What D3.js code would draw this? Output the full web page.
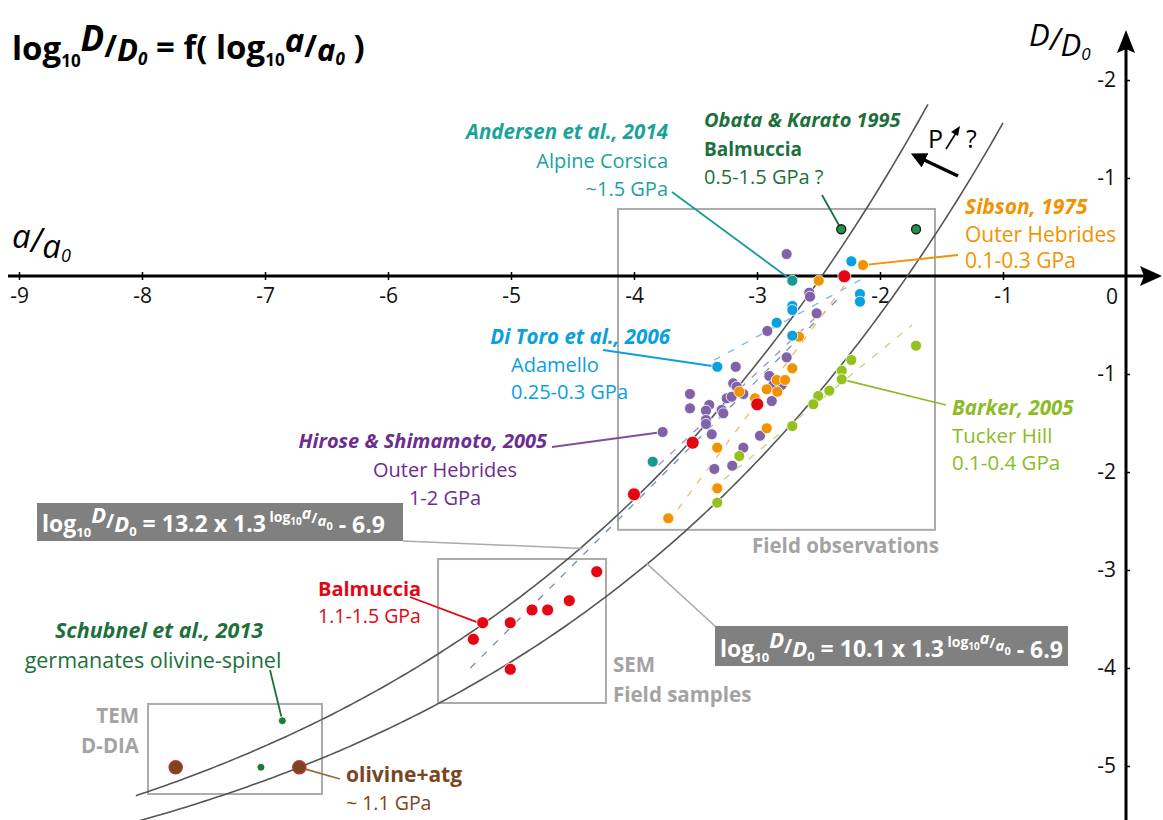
<!DOCTYPE html>
<html><head><meta charset="utf-8">
<script src="https://cdn.jsdelivr.net/npm/d3@7"></script>
<style>
body{margin:0;background:#fff}
svg{display:block}
text{font-family:'Open Sans',sans-serif}
</style>
</head><body>
<svg id="chart" width="1163" height="820"></svg>
<script>
// ---------- axis ticks ----------
const xTickValues = [-9,-8,-7,-6,-5,-4,-3,-2,-1];
const xTickLabels = ["-9","-8","-7","-6","-5","-4","-3","-2","-1"];
const yTickValues = [2,1,-1,-2,-3,-4,-5];
const yTickLabels = ["-2","-1","-1","-2","-3","-4","-5"];

// ---------- data: [log10 a/a0, log10 D/D0] ----------
const obataKarato = [[-2.315,0.477],[-1.707,0.477]];
const andersen = [[-2.713,-0.048],[-3.848,-1.895]];
const sibson = [[-2.138,0.112],[-2.498,-0.048],[-2.659,-0.619],[-2.713,-0.942],[-2.840,-1.061],
  [-2.772,-1.061],[-3.144,-1.181],[-2.921,-1.156],[-2.835,-1.181],[-3.016,-1.248],[-2.921,-1.554],
  [-3.323,-1.752],[-3.323,-2.166],[-3.721,-2.472]];
const diToro = [[-2.233,0.150],[-2.163,-0.184],[-2.163,-0.262],[-2.713,-0.306],[-2.713,-0.347],
  [-2.840,-0.477],[-2.713,-0.609],[-3.323,-0.926]];
const barker = [[-1.707,-0.711],[-2.233,-0.857],[-2.311,-0.966],[-2.311,-1.054],[-2.412,-1.170],
  [-2.502,-1.224],[-2.542,-1.309],[-2.713,-1.531],[-3.144,-1.837],[-3.323,-2.313]];
const hiroseShimamoto = [[-2.759,0.224],[-2.575,-0.170],[-2.569,-0.211],[-2.515,-0.381],[-2.916,-0.561],
  [-2.759,-0.830],[-3.173,-0.926],[-2.900,-1.020],[-3.193,-1.095],[-3.165,-1.130],[-2.867,-1.112],
  [-2.799,-1.112],[-3.545,-1.204],[-3.111,-1.204],[-3.246,-1.248],[-3.206,-1.232],[-2.880,-1.276],
  [-3.545,-1.350],[-3.388,-1.316],[-3.415,-1.374],[-3.287,-1.367],[-3.274,-1.401],[-3.415,-1.469],
  [-3.415,-1.510],[-3.767,-1.592],[-3.368,-1.615],[-2.976,-1.630],[-3.111,-1.752],[-3.347,-1.969],
  [-3.201,-1.936]];
const balmucciaField = [[-2.290,-0.003],[-2.998,-1.309],[-3.523,-1.701],[-4.000,-2.228]];
const balmucciaSEM = [[-4.303,-3.017],[-4.526,-3.313],[-4.829,-3.408],[-4.702,-3.408],[-5.230,-3.538],
  [-5.006,-3.538],[-5.306,-3.707],[-5.006,-4.013]];
const schubnel = [[-6.859,-4.538],[-7.033,-5.013]];
const olivineAtg = [[-7.726,-5.013],[-6.721,-5.013]];

// dashed trend lines [start, end]
const trendRed = [[-5.33,-4.00],[-2.33,-0.22]];
const trendDiToro = [[-3.35,-0.86],[-2.16,-0.04]];
const trendHirose = [[-3.80,-1.93],[-2.53,-0.43]];
const trendSibson = [[-3.72,-2.51],[-2.28,-0.08]];
const trendBarker = [[-3.37,-2.18],[-1.74,-0.50]];

// envelope curves: log10 D/D0 = k * 1.3^x - 6.9
const upperCurve = {k:13.2, base:1.3, c:-6.9, x0:-8.05, x1:-1.61};
const lowerCurve = {k:11.0, base:1.3, c:-6.9, x0:-8.1, x1:-1.0};

// ---------- scales ----------
const svg = d3.select("#chart");
const x = d3.scaleLinear().domain([-9,0]).range([19,1126]);
const y = d3.scaleLinear().domain([2,0]).range([80,276]);
const FONT = "'Open Sans',sans-serif";

// ---------- boxes ----------
const boxes = [
  {x0:-4.13,x1:-1.553,y0:0.684,y1:-2.59},
  {x0:-5.593,x1:-4.228,y0:-2.888,y1:-4.357},
  {x0:-7.951,x1:-6.537,y0:-4.367,y1:-5.286}
];
svg.selectAll("rect.zone").data(boxes).join("rect").attr("class","zone")
  .attr("x",d=>x(d.x0)).attr("y",d=>y(d.y0))
  .attr("width",d=>x(d.x1)-x(d.x0)).attr("height",d=>y(d.y1)-y(d.y0))
  .attr("fill","none").attr("stroke","#ababab").attr("stroke-width",2);

// ---------- axes ----------
const axisY0 = y(0), axisX0 = x(0);
svg.append("line").attr("x1",8).attr("x2",1148).attr("y1",axisY0).attr("y2",axisY0)
  .attr("stroke","#000").attr("stroke-width",3);
svg.append("path").attr("d",`M1162,${axisY0} L1140,${axisY0-10} L1144,${axisY0} L1140,${axisY0+10} Z`).attr("fill","#000");
svg.append("line").attr("x1",axisX0).attr("x2",axisX0).attr("y1",820).attr("y2",45)
  .attr("stroke","#000").attr("stroke-width",3);
svg.append("path").attr("d",`M${axisX0},30 L${axisX0-9},53 L${axisX0},49 L${axisX0+9},53 Z`).attr("fill","#000");

const gx = svg.append("g").attr("transform",`translate(0,${axisY0})`)
  .call(d3.axisBottom(x).tickValues(xTickValues).tickFormat((d,i)=>xTickLabels[i]).tickSize(4).tickPadding(8));
gx.select(".domain").remove();
gx.selectAll(".tick line").attr("y1",-4).attr("stroke","#000").attr("stroke-width",1.5);
gx.selectAll(".tick text").attr("font-size",21).attr("fill","#111").attr("font-family",FONT);

const gy = svg.append("g").attr("transform",`translate(${axisX0},0)`)
  .call(d3.axisLeft(y).tickValues(yTickValues).tickFormat((d,i)=>yTickLabels[i]).tickSize(4).tickPadding(6));
gy.select(".domain").remove();
gy.selectAll(".tick line").attr("x2",4).attr("stroke","#000").attr("stroke-width",1.5);
gy.selectAll(".tick text").attr("font-size",21).attr("fill","#111").attr("font-family",FONT);
svg.append("text").attr("x",axisX0-14).attr("y",axisY0+28).attr("text-anchor","middle")
  .attr("font-size",21).attr("fill","#111").text("0");

// ---------- curves ----------
function curvePts(c){
  return d3.range(0,201).map(i=>{const xv=c.x0+(c.x1-c.x0)*i/200; return [xv, c.k*Math.pow(c.base,xv)+c.c];});
}
const line = d3.line().x(d=>x(d[0])).y(d=>y(d[1]));
[upperCurve,lowerCurve].forEach(c=>{
  svg.append("path").attr("d",line(curvePts(c))).attr("fill","none").attr("stroke","#555").attr("stroke-width",1.6);
});

// ---------- dashed trends ----------
const trends = [
  {d:trendRed,color:"#6f8ebf"},
  {d:trendDiToro,color:"#7ab8e6"},
  {d:trendHirose,color:"#a48fc9"},
  {d:trendSibson,color:"#f6b766"},
  {d:trendBarker,color:"#bcd67a"}
];
trends.forEach(t=>{
  svg.append("path").attr("d",line(t.d)).attr("fill","none").attr("stroke",t.color)
    .attr("stroke-width",1.3).attr("stroke-dasharray","7,9");
});

// ---------- leader lines ----------
function leader(px,py,pt,color,w){
  svg.append("line").attr("x1",px).attr("y1",py).attr("x2",x(pt[0])).attr("y2",y(pt[1]))
    .attr("stroke",color).attr("stroke-width",w||1.8);
}
leader(672,192,andersen[0],"#1a9c94");
leader(822,195,obataKarato[0],"#1d6f3c");
leader(958,255,sibson[0],"#f39200");
leader(603,350,diToro[7],"#0aa0e0");
leader(552,447,hiroseShimamoto[24],"#7f4f9f");
leader(946,405,barker[3],"#8dbb25");
leader(410,597,[balmucciaSEM[6][0]+0.04,balmucciaSEM[6][1]+0.17],"#e30613");
leader(270,670,schubnel[0],"#1d6f3c");
leader(340,779,olivineAtg[1],"#9a6a3a");
// formula leaders
svg.append("line").attr("x1",403).attr("y1",541).attr("x2",x(-4.42)).attr("y2",y(-2.78)).attr("stroke","#aaa").attr("stroke-width",1.5);
svg.append("line").attr("x1",716).attr("y1",627).attr("x2",x(-3.9)).attr("y2",y(-2.93)).attr("stroke","#aaa").attr("stroke-width",1.5);

// ---------- points ----------
function pts(data,fill,r,stroke,sw){
  svg.append("g").selectAll("circle").data(data).join("circle")
    .attr("cx",d=>x(d[0])).attr("cy",d=>y(d[1])).attr("r",r)
    .attr("fill",fill).attr("stroke",stroke).attr("stroke-width",sw);
}
pts(hiroseShimamoto,"#7f62a8",5.5,"#fff",0.8);
pts(sibson,"#f39200",5.5,"#fff",0.8);
pts(barker,"#95c11f",5.5,"#fff",0.8);
pts(diToro,"#0aa0e0",5.5,"#fff",0.8);
pts(andersen,"#16998f",5.5,"#fff",0.8);
pts(balmucciaField,"#e30613",6.5,"#fff",0.8);
pts(balmucciaSEM,"#e30613",6,"#fff",0.8);
pts(obataKarato,"#23914a",4.5,"#1a1a1a",1.3);
pts(schubnel,"#1d7a3a",4,"#fff",1);
pts(olivineAtg,"#7b4522",6.5,"#b0362e",1.5);

// ---------- annotations ----------
function txt(xp,yp,s,color,opts){
  opts=opts||{};
  return svg.append("text").attr("x",xp).attr("y",yp).attr("fill",color)
    .attr("font-size",opts.size||20).attr("font-weight",opts.bold?"bold":"normal")
    .attr("font-style",opts.italic?"italic":"normal").attr("text-anchor",opts.anchor||"start").text(s);
}
const teal="#1ba39b", dg="#1d6f3c", org="#f39200", blu="#0aa0e0", pur="#6c2d8f", grn="#8dbb25", red="#e30613", brn="#7a4520", gry="#a3a3a3";
txt(668,139,"Andersen et al., 2014",teal,{bold:true,italic:true,anchor:"end",size:20.5});
txt(668,168,"Alpine Corsica",teal,{anchor:"end"});
txt(668,196,"~1.5 GPa",teal,{anchor:"end"});
txt(704,127,"Obata & Karato 1995",dg,{bold:true,italic:true});
txt(704,156,"Balmuccia",dg,{bold:true,size:19});
txt(704,184,"0.5-1.5 GPa ?",dg);
txt(965,214,"Sibson, 1975",org,{bold:true,italic:true,size:21});
txt(965,242,"Outer Hebrides",org,{size:21});
txt(965,268,"0.1-0.3 GPa",org,{size:21});
txt(670,344,"Di Toro et al., 2006",blu,{bold:true,italic:true,anchor:"end",size:20.5});
txt(511,372,"Adamello",blu);
txt(511,399,"0.25-0.3 GPa",blu);
txt(547,448,"Hirose & Shimamoto, 2005",pur,{bold:true,italic:true,anchor:"end"});
txt(445,477,"Outer Hebrides",pur,{anchor:"middle"});
txt(445,505,"1-2 GPa",pur,{anchor:"middle"});
txt(952,415,"Barker, 2005",grn,{bold:true,italic:true,size:20.5});
txt(952,443,"Tucker Hill",grn,{size:20.5});
txt(952,470,"0.1-0.4 GPa",grn,{size:20.5});
txt(318,596,"Balmuccia",red,{bold:true});
txt(318,623,"1.1-1.5 GPa",red,{size:19.5});
txt(159,638,"Schubnel et al., 2013",dg,{bold:true,italic:true,anchor:"middle",size:21.5});
txt(153,668,"germanates olivine-spinel",dg,{anchor:"middle",size:21.5});
txt(346,782,"olivine+atg",brn,{bold:true,size:21});
txt(346,810,"~ 1.1 GPa",brn,{size:19.5});
txt(139,723,"TEM",gry,{bold:true,anchor:"end",size:20.5});
txt(139,753,"D-DIA",gry,{bold:true,anchor:"end",size:20.5});
txt(613,672,"SEM",gry,{bold:true,size:20.5});
txt(613,702,"Field samples",gry,{bold:true,size:20.5});
txt(752,553,"Field observations",gry,{bold:true,size:20.5});

// P arrow
svg.append("defs").append("marker").attr("id","ah").attr("viewBox","0 0 10 10").attr("refX",5).attr("refY",5)
  .attr("markerWidth",4.5).attr("markerHeight",4.5).attr("orient","auto")
  .append("path").attr("d","M0,0 L10,5 L0,10 Z").attr("fill","#000");
svg.append("line").attr("x1",958).attr("y1",176).attr("x2",918).attr("y2",157).attr("stroke","#000").attr("stroke-width",3.5).attr("marker-end","url(#ah)");
txt(928,148,"P",'#000',{size:25});
svg.append("line").attr("x1",946).attr("y1",149).attr("x2",956).attr("y2",133).attr("stroke","#000").attr("stroke-width",1.6);
svg.append("path").attr("d","M960,126 L951,132 L958,136 Z").attr("fill","#000");
txt(966,148,"?",'#000',{size:25});

// ---------- title & axis names ----------
const t = svg.append("text").attr("x",12).attr("y",60).attr("font-weight","bold").attr("fill","#000").attr("font-size",33);
t.append("tspan").text("log");
t.append("tspan").attr("font-size",17).attr("dy",7).text("10");
t.append("tspan").attr("font-style","italic").attr("font-size",35).attr("dy",-16).text("D");
t.append("tspan").attr("font-size",31).attr("dy",6).text("/");
t.append("tspan").attr("font-style","italic").attr("font-size",31).attr("dy",4).text("D");
t.append("tspan").attr("font-style","italic").attr("font-size",17).attr("dy",4).text("0");
t.append("tspan").attr("font-size",33).attr("dy",-6).text(" = f( log");
t.append("tspan").attr("font-size",17).attr("dy",7).text("10");
t.append("tspan").attr("font-style","italic").attr("font-size",33).attr("dy",-14).text("a");
t.append("tspan").attr("font-size",31).attr("dy",5).text("/");
t.append("tspan").attr("font-style","italic").attr("font-size",31).attr("dy",4).text("a");
t.append("tspan").attr("font-style","italic").attr("font-size",17).attr("dy",4).text("0");
t.append("tspan").attr("font-size",33).attr("dy",-7).text(" )");

const ax = svg.append("text").attr("x",12).attr("y",252).attr("fill","#000").attr("font-size",33).attr("font-style","italic");
ax.append("tspan").attr("dy",-4).text("a");
ax.append("tspan").attr("dy",4).text("/");
ax.append("tspan").attr("dy",6).text("a");
ax.append("tspan").attr("font-size",18).attr("dy",4).text("0");

const ay = svg.append("text").attr("x",1029).attr("y",52).attr("fill","#000").attr("font-size",31).attr("font-style","italic");
ay.append("tspan").attr("dy",-6).text("D");
ay.append("tspan").attr("dy",4).text("/");
ay.append("tspan").attr("dy",6).text("D");
ay.append("tspan").attr("font-size",17).attr("dy",4).text("0");

// ---------- formula boxes ----------
function formula(bx,by,bw,bh,coef){
  svg.append("rect").attr("x",bx).attr("y",by).attr("width",bw).attr("height",bh).attr("fill","#808080");
  const f = svg.append("text").attr("x",bx+5).attr("y",by+bh-9).attr("fill","#fff").attr("font-weight","bold").attr("font-size",23);
  f.append("tspan").text("log");
  f.append("tspan").attr("font-size",13).attr("dy",5).text("10");
  f.append("tspan").attr("font-style","italic").attr("font-size",22).attr("dy",-14).text("D");
  f.append("tspan").attr("font-size",20).attr("dy",5).text("/");
  f.append("tspan").attr("font-style","italic").attr("font-size",22).attr("dy",4).text("D");
  f.append("tspan").attr("font-size",13).attr("dy",4).text("0");
  f.append("tspan").attr("font-size",23).attr("dy",-4).text(` = ${coef} x 1.3`);
  f.append("tspan").attr("font-size",14).attr("dy",-10).text(" log");
  f.append("tspan").attr("font-size",10).attr("dy",3).text("10");
  f.append("tspan").attr("font-style","italic").attr("font-size",16).attr("dy",-6).text("a");
  f.append("tspan").attr("font-size",15).attr("dy",4).text("/");
  f.append("tspan").attr("font-style","italic").attr("font-size",15).attr("dy",3).text("a");
  f.append("tspan").attr("font-size",11).attr("dy",4).text("0");
  f.append("tspan").attr("font-size",23).attr("dy",3).text(" - 6.9");
}
formula(37,503,366,38,"13.2");
formula(715,626,353,40,"10.1");
</script>
</body></html>
